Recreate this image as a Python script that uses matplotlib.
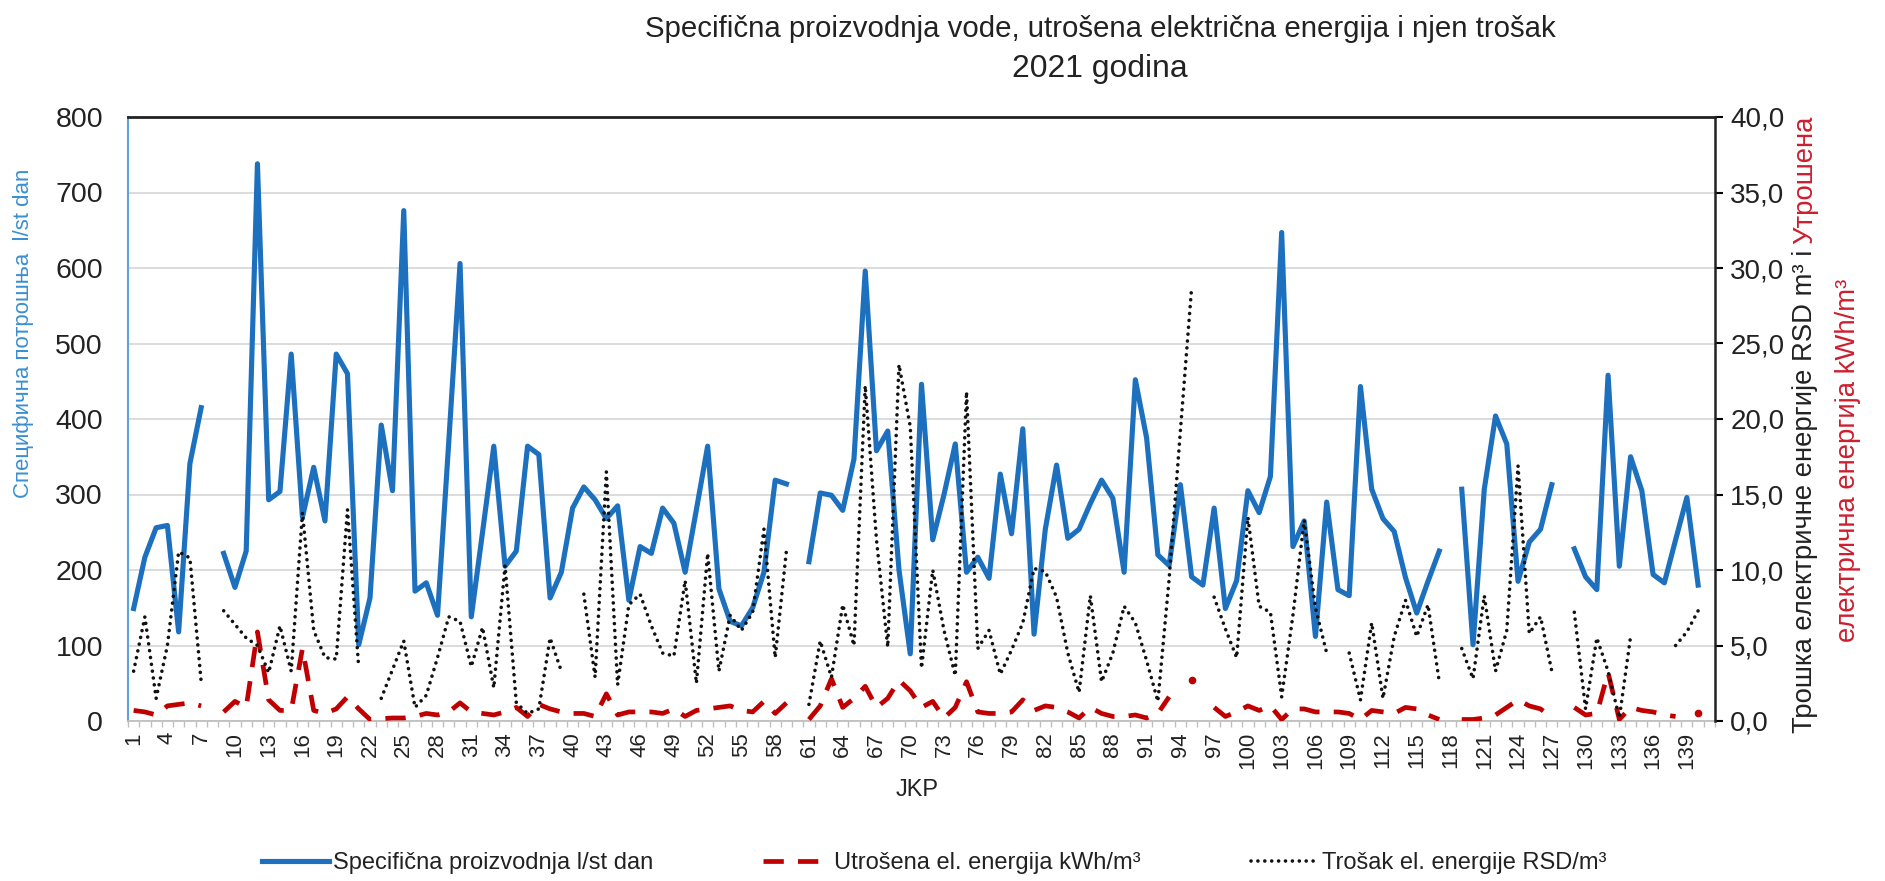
import numpy as np
import matplotlib
matplotlib.use('Agg')
import matplotlib.pyplot as plt
from matplotlib import font_manager

nan = np.nan

# JKP 1..141 (poslednja kategorija bez podataka)
jkp = np.arange(1, 142)

# Specificna proizvodnja l/st dan
spec = [149, 217, 256, 259, 118, 341, 415, nan, 222, 177,
        225, 738, 293, 304, 486, 270, 336, 265, 486, 460,
        101, 163, 392, 305, 676, 172, 183, 140, 370, 606,
        138, 250, 364, 205, 225, 364, 353, 163, 197, 282,
        310, 293, 268, 285, 160, 231, 222, 282, 262, 197,
        280, 364, 175, 132, 126, 150, 197, 319, 314, nan,
        211, 302, 299, 279, 347, 596, 358, 384, 200, 89,
        446, 240, 300, 367, 197, 217, 189, 327, 248, 387,
        115, 254, 339, 242, 254, 288, 319, 295, 197, 452,
        375, 220, 206, 313, 191, 180, 282, 149, 186, 305,
        276, 324, 647, 231, 265, 112, 290, 174, 166, 443,
        307, 268, 251, 190, 143, 185, 225, nan, 307, 101,
        307, 404, 367, 185, 237, 254, 313, nan, 228, 191,
        174, 458, 205, 350, 305, 194, 183, 240, 296, 180,
        nan]

# Utrosena el. energija kWh/m3
energy = [0.7, 0.6, 0.4, 1.0, 1.1, 1.2, 1.0, nan, 0.6, 1.3,
          0.9, 5.9, 1.4, 0.7, 0.7, 4.8, 0.7, 0.5, 0.8, 1.6,
          0.8, 0.1, 0.15, 0.2, 0.2, 0.3, 0.5, 0.4, 0.6, 1.2,
          0.6, 0.5, 0.4, 0.6, 0.9, 0.3, 1.1, 0.8, 0.6, 0.5,
          0.5, 0.3, 1.8, 0.4, 0.6, 0.6, 0.6, 0.5, 0.8, 0.3,
          0.7, 0.8, 0.9, 1.0, 0.7, 0.6, 1.3, 0.5, 1.2, nan,
          0.1, 1.0, 2.8, 0.9, 1.5, 2.3, 0.9, 1.5, 2.7, 2.0,
          0.9, 1.3, 0.2, 0.9, 2.6, 0.6, 0.5, 0.5, 0.6, 1.4,
          0.7, 1.0, 0.9, 0.6, 0.2, 0.9, 0.5, 0.3, 0.3, 0.4,
          0.2, 0.5, 1.6, nan, 2.7, nan, 0.9, 0.3, 0.6, 1.0,
          0.7, 1.0, 0.1, 0.8, 0.8, 0.6, 0.6, 0.6, 0.5, 0.1,
          0.7, 0.6, 0.5, 0.9, 0.8, 0.4, 0.1, nan, 0.1, 0.1,
          0.2, 0.4, 0.9, 1.4, 1.0, 0.8, 0.2, nan, 0.9, 0.4,
          0.5, 3.2, 0.1, 0.9, 0.7, 0.6, 0.4, 0.3, nan, 0.5,
          nan]

# Trosak el. energije RSD/m3
cost = [3.3, 6.9, 1.5, 5.0, 11.2, 10.8, 2.6, nan, 7.3, 6.4,
        5.5, 5.0, 3.2, 6.3, 3.3, 13.8, 6.0, 4.2, 4.1, 14.0,
        3.5, nan, 1.5, 3.4, 5.3, 0.9, 1.7, 4.2, 6.9, 6.6,
        3.6, 6.2, 2.2, 10.3, 1.2, 0.5, 0.8, 5.5, 3.3, nan,
        8.4, 2.9, 16.5, 2.4, 7.7, 8.4, 6.3, 4.5, 4.3, 9.3,
        2.5, 11.1, 3.3, 7.0, 6.0, 7.2, 12.7, 4.2, 11.3, nan,
        1.1, 5.3, 2.9, 7.7, 5.0, 22.2, 12.0, 4.9, 23.6, 19.5,
        3.5, 10.0, 6.0, 3.0, 21.8, 4.8, 6.0, 3.1, 4.7, 6.5,
        10.1, 9.9, 8.2, 4.5, 1.9, 8.3, 2.6, 4.5, 7.6, 6.5,
        4.0, 1.3, 9.4, 19.2, 28.7, nan, 8.2, 6.1, 4.2, 13.5,
        7.6, 7.2, 1.6, 7.0, 13.3, 7.5, 4.5, nan, 4.5, 1.4,
        6.5, 1.5, 5.6, 8.0, 5.6, 7.7, 2.6, nan, 4.8, 2.8,
        8.3, 3.3, 6.0, 16.9, 5.8, 6.9, 3.3, nan, 7.2, 0.8,
        5.5, 3.3, 0.2, 5.6, nan, nan, nan, 5.0, 5.9, 7.3,
        nan]

names = {f.name for f in font_manager.fontManager.ttflist}
narrow = 'Liberation Sans Narrow' if 'Liberation Sans Narrow' in names else 'Liberation Sans'
plt.rcParams['font.family'] = ['Liberation Sans', 'DejaVu Sans']


def isolated(v):
    # tacke bez suseda - Excel ih ipak prikazuje
    a = np.array(v, dtype=float)
    p = np.concatenate([[nan], a, [nan]])
    return list(np.where(~np.isnan(a) & np.isnan(p[:-2]) & np.isnan(p[2:]))[0])


W, H = 1885, 881
fig = plt.figure(figsize=(W / 100, H / 100), dpi=100)
ax = fig.add_axes([128 / W, 1 - 721 / H, (1715 - 128) / W, (721 - 117) / H])
ax2 = ax.twinx()

ax.plot(jkp, spec, color='#1c70be', lw=3.7, zorder=3,
        label='Specifična proizvodnja l/st dan')
l2, = ax2.plot(jkp, energy, color='#c00000', lw=3.4, dashes=(4.3, 3.0),
               label='Utrošena el. energija kWh/m³')
ax2.plot(jkp, energy, ls='none', marker='o', ms=4.5, color='#c00000',
         markevery=isolated(energy))
l3, = ax2.plot(jkp, cost, color='#111111', lw=2.6, linestyle=(0, (0.01, 1.9)),
               dash_capstyle='round', label='Trošak el. energije RSD/m³')

ax.set_xlim(0.5, 141.5)
ax.set_ylim(0, 800)
ax2.set_ylim(0, 40)
ax.set_yticks(range(0, 801, 100))
ax2.set_yticks(np.arange(0, 41, 5))
ax2.set_yticklabels([f'{v:.1f}'.replace('.', ',') for v in np.arange(0, 41, 5)])
ax.set_xticks(np.arange(1, 140, 3))
ax.set_xticklabels([str(v) for v in np.arange(1, 140, 3)], rotation=90)
ax.set_xticks(np.arange(0.5, 142, 1), minor=True)

ax.yaxis.grid(True, color='#d9d9d9', lw=1.3)
ax.set_axisbelow(True)
ax.tick_params(axis='y', length=0, pad=18, labelsize=20.5, labelcolor='#222222')
ax.tick_params(axis='x', which='major', length=0, pad=8, labelsize=16, labelcolor='#222222')
ax.tick_params(axis='x', which='minor', length=4, color='#bfbfbf', width=1)
ax2.tick_params(axis='y', length=6, width=1.5, pad=5, labelsize=20, labelcolor='#222222')

for s in ['top', 'right']:
    ax.spines[s].set_visible(False)
ax.spines['left'].set_color('#5ba3d9')
ax.spines['left'].set_linewidth(1.5)
ax.spines['bottom'].set_color('#bfbfbf')
ax.spines['bottom'].set_linewidth(1.3)
ax2.spines['left'].set_visible(False)
ax2.spines['bottom'].set_visible(False)
ax2.spines['top'].set_color('#222222')
ax2.spines['top'].set_linewidth(2)
ax2.spines['right'].set_color('#222222')
ax2.spines['right'].set_linewidth(1.8)

renderer = fig.canvas.get_renderer()


def fit(t, target):
    bb = t.get_window_extent(renderer)
    t.set_fontsize(t.get_fontsize() * target / max(bb.width, bb.height))
    return t


# naslov
fit(fig.text(1100 / W, 1 - 29 / H, 'Specifična proizvodnja vode, utrošena električna energija i njen trošak',
             family=narrow, fontsize=20, ha='center', va='center', color='#222222'), 909)
fit(fig.text(1100 / W, 1 - 69 / H, '2021 godina', family=narrow, fontsize=20,
             ha='center', va='center', color='#222222'), 175)

fig.text(917 / W, 1 - 790 / H, 'JKP', family=narrow, fontsize=17, ha='center', va='center', color='#222222')

fit(fig.text(24 / W, 1 - 333 / H, 'Специфична потрошња  l/st dan', family=narrow, fontsize=18,
             rotation=90, ha='center', va='center', color='#3b8fd0'), 331)

# desna osa - dve boje
probe = fig.text(0, 0, 'Трошка електричне енергије RSD m³ i Утрошена', family=narrow,
                 fontsize=20, rotation=90)
fit(probe, 619)
fs = probe.get_fontsize()
probe.remove()
tb = fig.text(1805 / W, 1 - 733 / H, 'Трошка електричне енергије RSD m³ i', family=narrow,
              fontsize=fs, rotation=90, ha='center', va='bottom', color='#222222')
bb = tb.get_window_extent(renderer)
fig.text(1805 / W, (bb.y1 + 0.3 * fs) / H, 'Утрошена', family=narrow, fontsize=fs,
         rotation=90, ha='center', va='bottom', color='#cc1f2f')
fig.text(1848 / W, 1 - 460 / H, 'електрична енергија kWh/m³', family=narrow, fontsize=fs,
         rotation=90, ha='center', va='center', color='#cc1f2f')

# legenda
h1 = ax.get_lines()[0]
probe = fig.text(0, 0, 'Specifična proizvodnja l/st dan', family=narrow, fontsize=16)
fit(probe, 321)
lfs = probe.get_fontsize()
probe.remove()
em = lfs * 100 / 72
fig.legend([h1, l2, l3], [h1.get_label(), l2.get_label(), l3.get_label()],
           loc='center', bbox_to_anchor=(934 / W, 1 - 863 / H), ncol=3, frameon=False,
           prop={'family': narrow, 'size': lfs}, handlelength=67 / em,
           handletextpad=4 / em, columnspacing=110 / em, labelcolor='#222222')

fig.savefig('out.png', dpi=100, facecolor='white')
